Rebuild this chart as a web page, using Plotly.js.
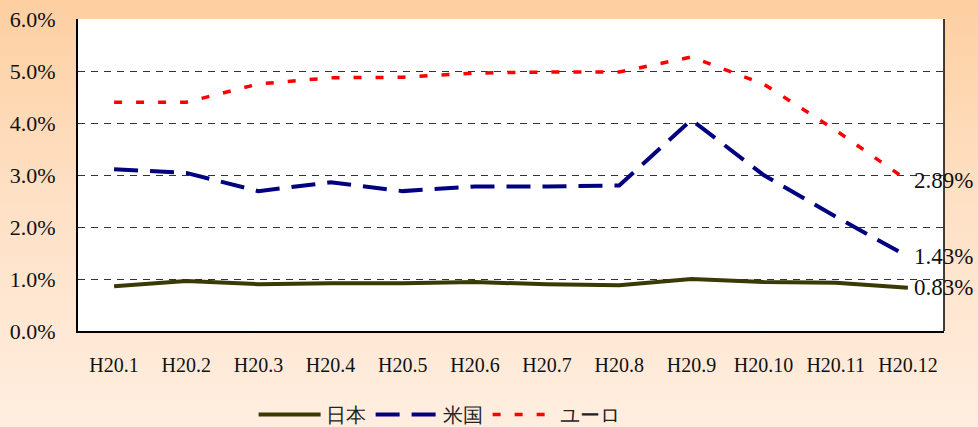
<!DOCTYPE html>
<html>
<head>
<meta charset="utf-8">
<script src="https://cdn.plot.ly/plotly-3.0.1.min.js"></script>
<style>
html,body{margin:0;padding:0;width:978px;height:427px;overflow:hidden;
background:linear-gradient(to bottom,#fdcfa1 0%,#fee0c4 45%,#ffeee0 100%);}
#chart{width:978px;height:427px;}
</style>
</head>
<body>
<div id="chart"></div>
<script>
const categories = ["H20.1","H20.2","H20.3","H20.4","H20.5","H20.6","H20.7","H20.8","H20.9","H20.10","H20.11","H20.12"];
const japan = [0.86,0.96,0.90,0.92,0.92,0.94,0.90,0.88,1.00,0.94,0.93,0.83];
const usa   = [3.11,3.04,2.69,2.86,2.69,2.78,2.78,2.80,4.06,3.00,2.20,1.43];
const euro  = [4.40,4.40,4.75,4.87,4.88,4.96,4.98,4.98,5.27,4.75,3.86,2.89];
const seriesNames = ["日本","米国","ユーロ"];
const yTicks = [0,1,2,3,4,5,6];
const yTickLabels = ["0.0%","1.0%","2.0%","3.0%","4.0%","5.0%","6.0%"];

const serif = "Liberation Serif";
const traces = [
  {x:categories,y:japan,name:seriesNames[0],type:"scatter",mode:"lines",
   line:{color:"#3a3a05",width:4}},
  {x:categories,y:usa,name:seriesNames[1],type:"scatter",mode:"lines",
   line:{color:"#000080",width:4,dash:"24px,12px"}},
  {x:categories,y:euro,name:seriesNames[2],type:"scatter",mode:"lines",
   line:{color:"#ff0000",width:3.5,dash:"8px,14px"}}
];
const last = categories.length-1;
const annotations = [japan,usa,euro].map(s=>({
  x:categories[last], y:s[last], xref:"x", yref:"y",
  text:s[last].toFixed(2)+"%", showarrow:false, xanchor:"left", yanchor:"middle",
  xshift:4, font:{family:serif,size:23,color:"#111"}
}));
const layout = {
  width:978,height:427,
  font:{family:serif},
  paper_bgcolor:"rgba(0,0,0,0)",plot_bgcolor:"#ffffff",
  margin:{l:78,r:34,t:19,b:96,autoexpand:false},
  showlegend:true,
  legend:{orientation:"h",x:0.417,xanchor:"center",y:-0.268,yanchor:"middle",
    font:{family:serif,size:20,color:"#222"},itemwidth:62,
    bgcolor:"rgba(0,0,0,0)"},
  xaxis:{type:"category",range:[-0.5,11.5],showgrid:false,showline:true,linecolor:"#000",linewidth:2,
    ticks:"",ticklabelstandoff:15,tickfont:{family:serif,size:20,color:"#111"},fixedrange:true,zeroline:false},
  yaxis:{range:[0,6],tickvals:yTicks,ticktext:yTickLabels,showgrid:true,gridcolor:"#333",
    griddash:"7px,6px",gridwidth:1,showline:true,linecolor:"#000",linewidth:2,mirror:false,
    ticks:"",ticklabelstandoff:16,tickfont:{family:serif,size:22,color:"#111"},zeroline:false},
  shapes:[{type:"line",xref:"paper",yref:"paper",x0:1,x1:1,y0:0,y1:1,line:{color:"#000",width:1.5}}],
  annotations:annotations
};
Plotly.newPlot("chart",traces,layout,{displayModeBar:false,staticPlot:true});
</script>
</body>
</html>
